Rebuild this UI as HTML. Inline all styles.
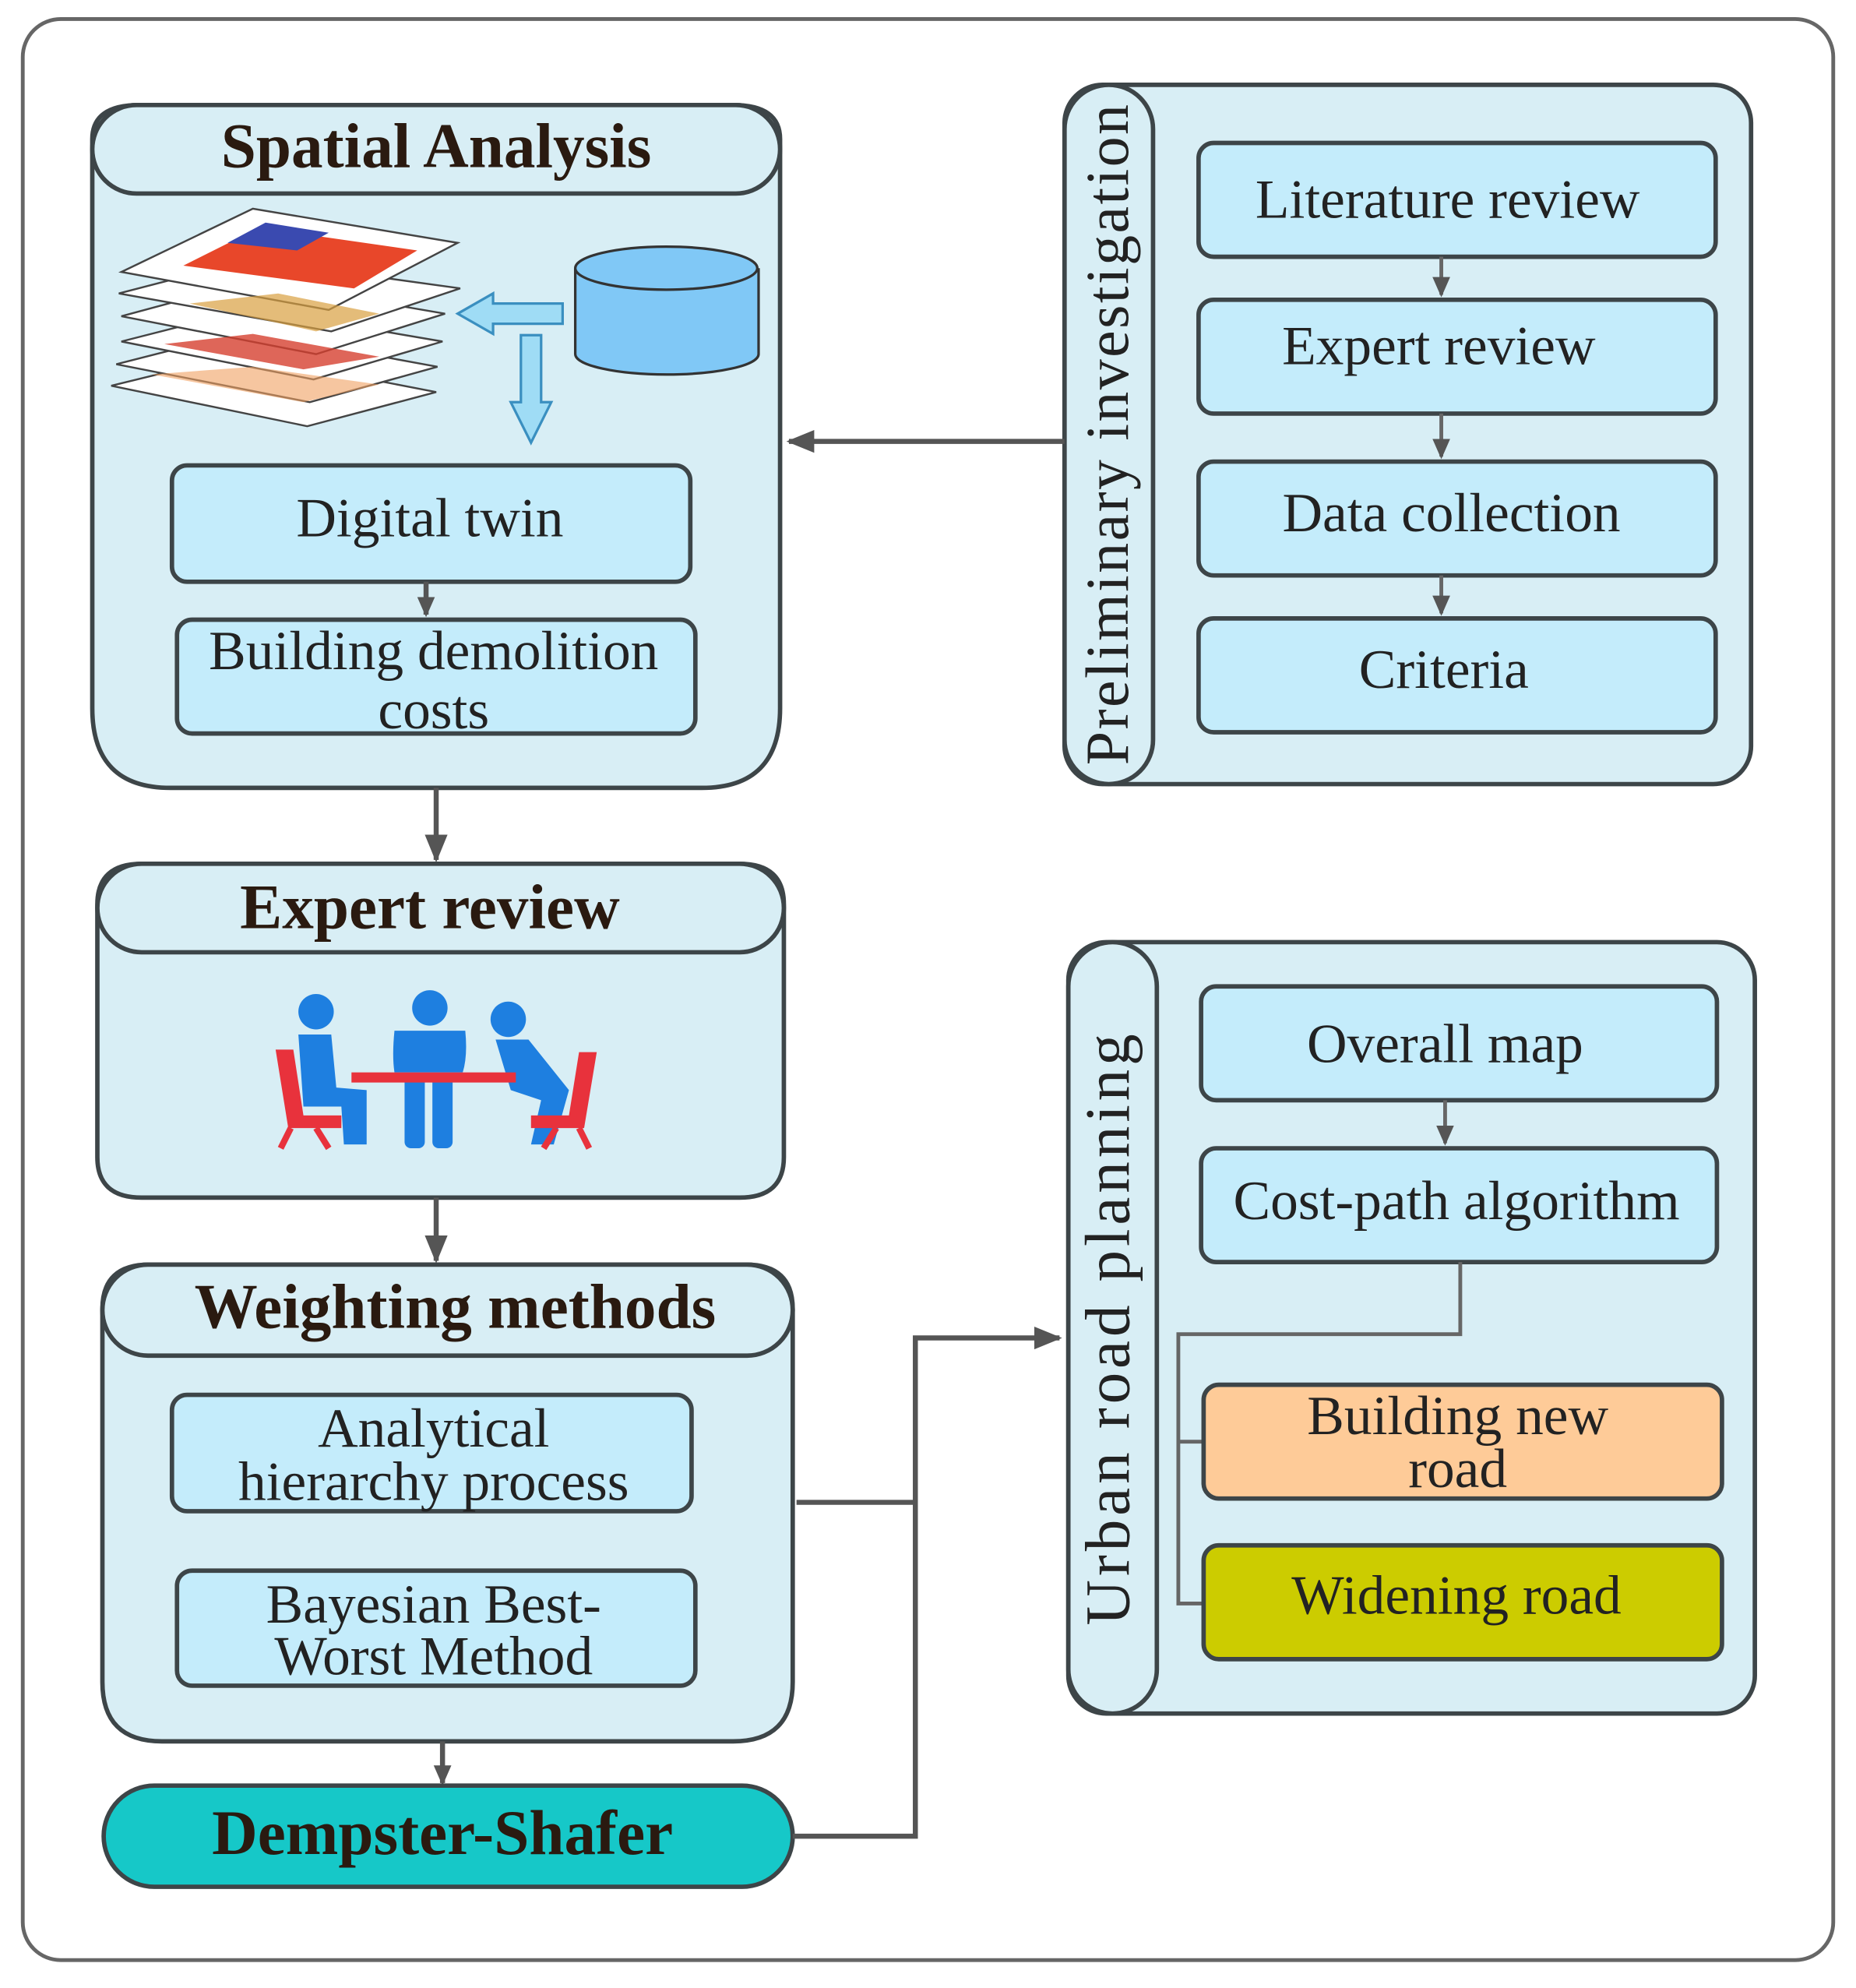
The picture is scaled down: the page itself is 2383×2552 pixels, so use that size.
<!DOCTYPE html>
<html><head><meta charset="utf-8"><style>
html,body{margin:0;padding:0;background:#fff;}
svg{display:block;}
text{font-family:"Liberation Serif","DejaVu Serif",serif;fill:#222;}
.t{font-size:44px;text-anchor:middle;}
.h{font-size:50px;font-weight:bold;text-anchor:middle;fill:#2a1a10;}
.c{fill:#d8eef5;stroke:#3d4548;stroke-width:3.5;}
.b{fill:#c4ecfb;stroke:#3d4548;stroke-width:3.5;}
.ln{stroke:#555;stroke-width:4;fill:none;}
.ln2{stroke:#666;stroke-width:3;fill:none;}
</style></head><body>
<svg width="2383" height="2552" viewBox="0 0 1468 1572" xmlns="http://www.w3.org/2000/svg">
<defs>
<marker id="A" markerWidth="22" markerHeight="22" refX="20" refY="11" orient="auto" markerUnits="userSpaceOnUse"><path d="M0,2 L22,11 L0,20 z" fill="#555"/></marker>
<marker id="s" markerWidth="16" markerHeight="16" refX="14" refY="8" orient="auto" markerUnits="userSpaceOnUse"><path d="M0,1 L16,8 L0,15 z" fill="#555"/></marker>
</defs>
<rect x="18" y="15" width="1432" height="1535" rx="30" fill="#fff" stroke="#666" stroke-width="3"/>

<path class="c" d="M73,110 Q73,83 110,83 L580,83 Q617,83 617,110 L617,560 Q617,623 555,623 L135,623 Q73,623 73,560 Z"/>
<rect class="c" x="73" y="83" width="544" height="70" rx="35"/>
<text class="h" x="345" y="132">Spatial Analysis</text>
<g stroke="#444" stroke-width="1.5">
<polygon points="88,305 190,280 345,310 243,337" fill="#fff"/>
<polygon points="92,288 194,262 346,290 245,318" fill="#fff"/>
<polygon points="96,270 198,244 350,270 248,300" fill="#fff"/>
<polygon points="96,250 200,222 352,248 250,280" fill="#fff"/>
<polygon points="94,232 198,205 364,228 262,262" fill="#fff"/>
<polygon points="96,215 200,165 362,192 260,245" fill="#fff"/>
</g>
<polygon points="145,210 205,180 330,198 280,228" fill="#e8472a"/>
<polygon points="180,192 210,176 260,184 235,198" fill="#3a4ab0"/>
<polygon points="150,240 220,232 300,248 250,262" fill="#d9a040" opacity="0.7"/>
<polygon points="130,272 200,264 300,282 240,292" fill="#d64030" opacity="0.8"/>
<polygon points="120,296 200,290 300,304 240,318" fill="#f0a060" opacity="0.6"/>
<path d="M445,240 L390,240 L390,232 L362,248 L390,264 L390,256 L445,256 Z" fill="#9fdcf5" stroke="#3a8fc0" stroke-width="2"/>
<path d="M412,265 L428,265 L428,318 L436,318 L420,350 L404,318 L412,318 Z" fill="#9fdcf5" stroke="#3a8fc0" stroke-width="2"/>
<path d="M455,212 L455,280 A72,16 0 0 0 600,280 L600,212" fill="#80c8f6" stroke="#333" stroke-width="2"/>
<ellipse cx="527" cy="212" rx="72" ry="17" fill="#80c8f6" stroke="#333" stroke-width="2"/>
<rect class="b" x="136" y="368" width="410" height="92" rx="12"/>
<text class="t" x="340" y="424">Digital twin</text>
<line class="ln" x1="337" y1="460" x2="337" y2="486" marker-end="url(#s)"/>
<rect class="b" x="140" y="490" width="410" height="90" rx="12"/>
<text class="t" x="343" y="529">Building demolition</text>
<text class="t" x="343" y="576">costs</text>

<line class="ln" x1="345" y1="623" x2="345" y2="680" marker-end="url(#A)"/>

<path class="c" d="M77,715 Q77,683 112,683 L585,683 Q620,683 620,715 L620,915 Q620,947 585,947 L112,947 Q77,947 77,915 Z"/>
<rect class="c" x="77" y="683" width="543" height="70" rx="35"/>
<text class="h" x="340" y="734">Expert review</text>
<g fill="#1e7fe0">
<circle cx="250" cy="800" r="14"/><path d="M236,818 L262,818 L266,860 L290,862 L290,905 L272,905 L270,875 L240,875 Z"/>
<circle cx="340" cy="797" r="14"/><path d="M312,815 L368,815 Q370,835 366,848 L312,848 Q310,835 312,815 Z"/><rect x="320" y="850" width="16" height="58" rx="5"/><rect x="342" y="850" width="16" height="58" rx="5"/>
<circle cx="402" cy="806" r="14"/><path d="M392,822 L418,822 L450,862 L438,905 L420,905 L428,870 L404,862 Z"/>
</g>
<rect x="278" y="848" width="130" height="8" fill="#e8323c"/>
<g fill="#e8323c">
<path d="M218,830 L232,830 L240,882 L270,882 L270,892 L228,892 Z"/><path d="M230,892 L222,908 M250,892 L260,908" stroke="#e8323c" stroke-width="5"/>
<path d="M472,832 L458,832 L450,882 L420,882 L420,892 L462,892 Z"/><path d="M458,892 L466,908 M440,892 L430,908" stroke="#e8323c" stroke-width="5"/>
</g>

<line class="ln" x1="345" y1="947" x2="345" y2="997" marker-end="url(#A)"/>

<path class="c" d="M81,1035 Q81,1000 118,1000 L590,1000 Q627,1000 627,1035 L627,1330 Q627,1377 580,1377 L128,1377 Q81,1377 81,1330 Z"/>
<rect class="c" x="81" y="1000" width="546" height="72" rx="36"/>
<text class="h" x="360" y="1050">Weighting methods</text>
<rect class="b" x="136" y="1103" width="411" height="92" rx="12"/>
<text class="t" x="343" y="1144">Analytical</text>
<text class="t" x="343" y="1186">hierarchy process</text>
<rect class="b" x="140" y="1242" width="410" height="91" rx="12"/>
<text class="t" x="343" y="1283">Bayesian Best-</text>
<text class="t" x="343" y="1324">Worst Method</text>
<line class="ln" x1="350" y1="1377" x2="350" y2="1410" marker-end="url(#s)"/>
<rect x="82" y="1412" width="545" height="80" rx="40" fill="#16c8c8" stroke="#3d4548" stroke-width="3.5"/>
<text class="h" x="350" y="1466">Dempster-Shafer</text>

<path class="ln" d="M630,1188 L724,1188 M627,1452 L724,1452 L724,1058 L838,1058" marker-end="url(#A)"/>

<rect class="c" x="842" y="67" width="543" height="553" rx="30"/>
<rect class="c" x="842" y="67" width="70" height="553" rx="35"/>
<text x="0" y="0" transform="translate(892,343) rotate(-90)" style="font-size:48px;text-anchor:middle;letter-spacing:1.5px">Preliminary investigation</text>
<rect class="b" x="948" y="113" width="409" height="90" rx="12"/>
<text class="t" x="1145" y="172">Literature review</text>
<line class="ln2" x1="1140" y1="203" x2="1140" y2="233" marker-end="url(#s)"/>
<rect class="b" x="948" y="237" width="409" height="90" rx="12"/>
<text class="t" x="1138" y="288">Expert review</text>
<line class="ln2" x1="1140" y1="327" x2="1140" y2="361" marker-end="url(#s)"/>
<rect class="b" x="948" y="365" width="409" height="90" rx="12"/>
<text class="t" x="1148" y="420">Data collection</text>
<line class="ln2" x1="1140" y1="455" x2="1140" y2="485" marker-end="url(#s)"/>
<rect class="b" x="948" y="489" width="409" height="90" rx="12"/>
<text class="t" x="1142" y="544">Criteria</text>
<line class="ln" x1="842" y1="349" x2="624" y2="349" marker-end="url(#A)"/>

<rect class="c" x="845" y="745" width="543" height="610" rx="30"/>
<rect class="c" x="845" y="745" width="70" height="610" rx="35"/>
<text x="0" y="0" transform="translate(893,1050) rotate(-90)" style="font-size:50px;text-anchor:middle;letter-spacing:3px">Urban road planning</text>
<rect class="b" x="950" y="780" width="408" height="90" rx="12"/>
<text class="t" x="1143" y="840">Overall map</text>
<line class="ln2" x1="1143" y1="870" x2="1143" y2="904" marker-end="url(#s)"/>
<rect class="b" x="950" y="908" width="408" height="90" rx="12"/>
<text class="t" x="1152" y="964">Cost-path algorithm</text>
<path class="ln2" d="M1155,998 L1155,1055 L932,1055 L932,1268 L952,1268 M932,1140 L952,1140"/>
<rect x="952" y="1095" width="410" height="90" rx="12" fill="#fecb98" stroke="#3d4548" stroke-width="3.5"/>
<text class="t" x="1153" y="1134">Building new</text>
<text class="t" x="1153" y="1176">road</text>
<rect x="952" y="1222" width="410" height="90" rx="12" fill="#cccc00" stroke="#3d4548" stroke-width="3.5"/>
<text class="t" x="1152" y="1276">Widening road</text>
</svg>
</body></html>
